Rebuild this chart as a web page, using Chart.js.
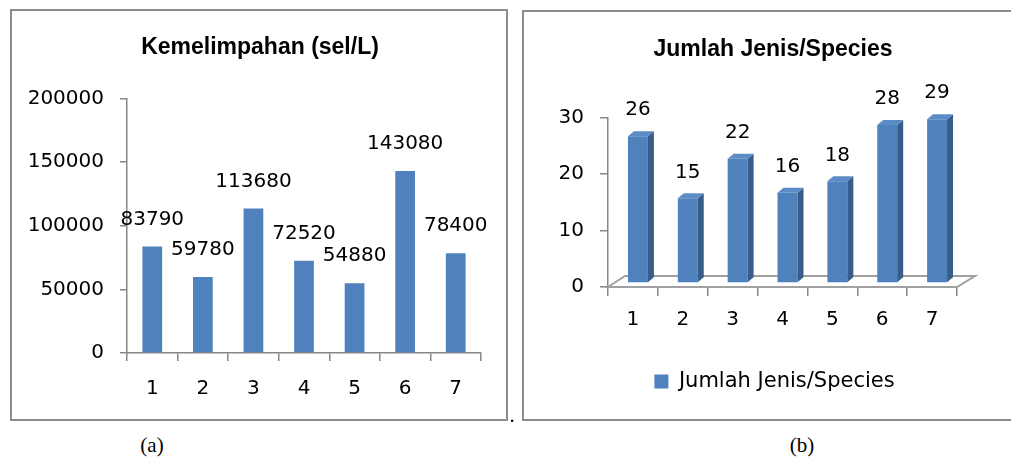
<!DOCTYPE html>
<html><head><meta charset="utf-8">
<script src="https://cdn.jsdelivr.net/npm/chart.js@4.4.1/dist/chart.umd.min.js"></script>
<style>
html,body{margin:0;padding:0;background:#fff;width:1011px;height:458px;overflow:hidden;position:relative;}
.box{position:absolute;border:2px solid #8c8c8c;box-sizing:border-box;background:#fff;}
.box canvas{position:absolute;left:0;top:0;}
.cap{position:absolute;font-family:"Liberation Serif","Times New Roman",serif;font-size:21px;line-height:22px;color:#000;text-align:center;width:60px;}
</style></head><body>
<div class="box" style="left:10px;top:9px;width:498px;height:412px;"><canvas id="c1" width="494" height="408"></canvas></div>
<div class="box" style="left:522px;top:10px;width:491px;height:411px;"><canvas id="c2" width="487" height="407"></canvas></div>
<div class="cap" style="left:122px;top:434px;">(a)</div>
<div class="cap" style="left:772px;top:434px;">(b)</div>
<div class="cap" style="left:482px;top:404px;">.</div>
<script>
const categories = ['1','2','3','4','5','6','7'];
const abundance = [83790, 59780, 113680, 72520, 54880, 143080, 78400];
const species = [26, 15, 22, 16, 18, 28, 29];
const titleA = 'Kemelimpahan (sel/L)';
const titleB = 'Jumlah Jenis/Species';
const seriesB = 'Jumlah Jenis/Species';

const TFONT = '"Liberation Sans", Arial, sans-serif';
const NFONT = '"DejaVu Sans", Verdana, sans-serif';
Chart.defaults.font.family = NFONT;
Chart.defaults.color = '#000';
const AXIS = '#868686';
const BLUE = '#4F81BD';
const NSIZE = 20;

function valueLabels(offset, dx, dy) {
  return {
    id: 'valueLabels',
    afterDatasetsDraw(chart) {
      const ctx = chart.ctx;
      const meta = chart.getDatasetMeta(0);
      const data = chart.data.datasets[0].data;
      ctx.save();
      ctx.font = NSIZE + 'px ' + NFONT;
      ctx.fillStyle = '#000';
      ctx.textAlign = 'center';
      ctx.textBaseline = 'middle';
      meta.data.forEach((bar, i) => {
        ctx.fillText(String(data[i]), bar.x + dx, bar.y + dy - offset);
      });
      ctx.restore();
    }
  };
}

function shiftBoxes(titleShift, legendShift) {
  return {
    id: 'shiftBoxes',
    afterLayout(chart) {
      if (chart.titleBlock) { chart.titleBlock.left += titleShift; chart.titleBlock.right += titleShift; }
      if (chart.legend && legendShift) { chart.legend.left += legendShift; chart.legend.right += legendShift; }
    }
  };
}

const DX = 5, DY = -4, SX = 6, SY = -5, FX = 18, FY = -11;
const bar3d = {
  id: 'bar3d',
  beforeDatasetsDraw(chart) {
    const { ctx, chartArea: a } = chart;
    ctx.save();
    ctx.beginPath();
    ctx.moveTo(a.left, a.bottom);
    ctx.lineTo(a.left + FX - 1, a.bottom + FY);
    ctx.lineTo(a.right + FX, a.bottom + FY);
    ctx.lineTo(a.right, a.bottom);
    ctx.closePath();
    ctx.fillStyle = '#fff';
    ctx.fill();
    ctx.strokeStyle = '#a0a0a0';
    ctx.lineWidth = 2;
    ctx.stroke();
    ctx.restore();
    ctx.save();
    ctx.translate(DX, DY);
  },
  afterDatasetsDraw(chart) {
    const ctx = chart.ctx;
    ctx.restore();
    const meta = chart.getDatasetMeta(0);
    ctx.save();
    meta.data.forEach(bar => {
      const w = bar.width;
      const l = bar.x - w / 2 + DX, r = bar.x + w / 2 + DX;
      const t = bar.y + DY, b = bar.base + DY;
      ctx.beginPath();
      ctx.moveTo(r, t); ctx.lineTo(r + SX, t + SY); ctx.lineTo(r + SX, b + SY); ctx.lineTo(r, b);
      ctx.closePath();
      ctx.fillStyle = '#385D8A'; ctx.fill();
      ctx.beginPath();
      ctx.moveTo(l, t); ctx.lineTo(l + SX, t + SY); ctx.lineTo(r + SX, t + SY); ctx.lineTo(r, t);
      ctx.closePath();
      ctx.fillStyle = '#5B8CC7'; ctx.fill();
    });
    ctx.restore();
  }
};

new Chart(document.getElementById('c1'), {
  type: 'bar',
  data: { labels: categories, datasets: [{ label: titleA, data: abundance, backgroundColor: BLUE, barPercentage: 0.39, categoryPercentage: 1 }] },
  options: {
    responsive: false, animation: false,
    layout: { padding: { left: 0, right: 25, top: 0, bottom: 0 } },
    plugins: {
      legend: { display: false }, tooltip: { enabled: false },
      title: { display: true, text: titleA, color: '#000', font: { family: TFONT, size: 23, weight: 'bold' }, padding: { top: 23, bottom: 37 } }
    },
    scales: {
      y: {
        min: 0, max: 200000,
        ticks: { stepSize: 50000, padding: 16, font: { size: NSIZE }, color: '#000', callback: v => String(v) },
        grid: { drawOnChartArea: false, tickLength: 7, color: AXIS, lineWidth: 1.5 },
        border: { color: AXIS, width: 1.5 },
        afterFit(s) { s.width = 115; }
      },
      x: {
        ticks: { padding: 16, font: { size: NSIZE }, color: '#000' },
        grid: { drawOnChartArea: false, offset: true, tickLength: 8, color: AXIS, lineWidth: 1.5 },
        border: { color: AXIS, width: 1.5 },
        afterFit(s) { s.height = 66; }
      }
    }
  },
  plugins: [shiftBoxes(13.5, 0), valueLabels(27, 0, 0)]
});

new Chart(document.getElementById('c2'), {
  type: 'bar',
  data: { labels: categories, datasets: [{ label: seriesB, data: species, backgroundColor: BLUE, barPercentage: 0.4, categoryPercentage: 1 }] },
  options: {
    responsive: false, animation: false,
    layout: { padding: { left: 0, right: 54, top: 0, bottom: 17 } },
    plugins: {
      tooltip: { enabled: false },
      title: { display: true, text: titleB, color: '#000', font: { family: TFONT, size: 23, weight: 'bold' }, padding: { top: 24, bottom: 54 } },
      legend: { display: true, position: 'bottom', labels: { boxWidth: 14, boxHeight: 14, padding: 10, color: '#000', font: { size: 21 } } }
    },
    scales: {
      y: {
        min: 0, max: 30,
        ticks: { stepSize: 10, padding: 16, font: { size: NSIZE }, color: '#000' },
        grid: { drawOnChartArea: false, tickLength: 8, color: AXIS, lineWidth: 1.5 },
        border: { color: AXIS, width: 1.5 },
        afterFit(s) { s.width = 84; }
      },
      x: {
        ticks: { padding: 12, font: { size: NSIZE }, color: '#000' },
        grid: { drawOnChartArea: false, offset: true, tickLength: 9, color: AXIS, lineWidth: 1.5 },
        border: { color: AXIS, width: 1.5 },
        afterFit(s) { s.height = 74; }
      }
    }
  },
  plugins: [shiftBoxes(32.5, 34), bar3d, valueLabels(26, DX, DY)]
});
</script>
</body></html>
